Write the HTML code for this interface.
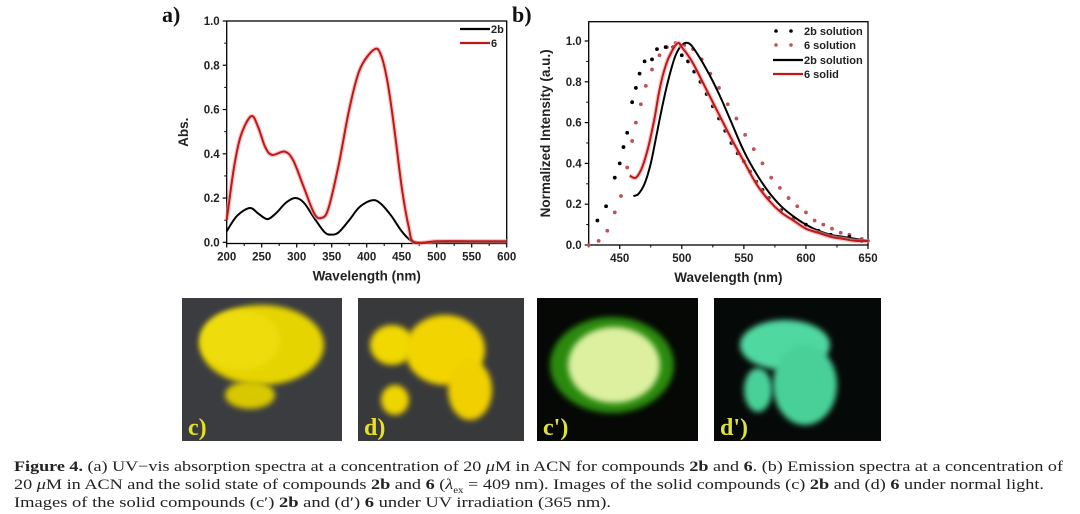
<!DOCTYPE html>
<html><head><meta charset="utf-8">
<style>
html,body{margin:0;padding:0;background:#fff;width:1080px;height:514px;overflow:hidden}
svg text{font-family:"Liberation Sans",sans-serif}
svg text.serif{font-family:"Liberation Serif",serif}
.cap{position:absolute;left:14px;font-family:"Liberation Serif",serif;font-size:15px;color:#222;white-space:nowrap;transform-origin:0 0;line-height:18px}
</style></head>
<body>
<svg id="fig" width="1080" height="450" style="position:absolute;left:0;top:0">
<defs>
<filter id="bl" x="-20%" y="-20%" width="140%" height="140%"><feGaussianBlur stdDeviation="3"/></filter>
</defs>
<g id="chartA"></g>
<g id="chartB"></g>
<g id="photos"></g>
</svg>
<div class="cap" style="top:458px"><b>Figure 4.</b> (a) UV−vis absorption spectra at a concentration of 20 <i>μ</i>M in ACN for compounds <b>2b</b> and <b>6</b>. (b) Emission spectra at a concentration of</div>
<div class="cap" style="top:476px">20 <i>μ</i>M in ACN and the solid state of compounds <b>2b</b> and <b>6</b> (<i>λ</i><sub style="font-size:9px">ex</sub> = 409 nm). Images of the solid compounds (c) <b>2b</b> and (d) <b>6</b> under normal light.</div>
<div class="cap" style="top:494px">Images of the solid compounds (c′) <b>2b</b> and (d′) <b>6</b> under UV irradiation (365 nm).</div>
<script>
// ---- Chart A data ----
const aX2b=[200,215,233,245,258,270,285,298,310,325,340,350,360,375,390,408,420,435,450,462,470,500,550,600];
const aY2b=[0.05,0.12,0.155,0.13,0.105,0.13,0.18,0.2,0.18,0.11,0.045,0.035,0.045,0.1,0.16,0.19,0.175,0.12,0.05,0.01,0,0,0,0];
const aX6=[200,210,220,235,245,255,265,283,295,310,325,335,345,360,375,390,410,420,430,440,450,460,468,500,550,600];
const aY6=[0.1,0.33,0.48,0.57,0.52,0.43,0.395,0.41,0.37,0.25,0.13,0.11,0.15,0.35,0.6,0.78,0.87,0.85,0.72,0.5,0.25,0.07,0.0,0.005,0.005,0.005];
const aXTicks=[200,250,300,350,400,450,500,550,600];
const aYTicks=[0.0,0.2,0.4,0.6,0.8,1.0];
// ---- Chart B data ----
const bX2bSol=[432,439,446,450,453,456,460,463,466,470,476,480,487,493,500,505,510,515,520,525,530,535,540,545,550,555,560,565,570,580,590,600,610,620,635,645];
const bY2bSol=[0.12,0.19,0.33,0.4,0.48,0.55,0.7,0.77,0.84,0.9,0.91,0.96,0.97,0.97,0.93,0.9,0.85,0.8,0.74,0.68,0.62,0.56,0.5,0.45,0.41,0.36,0.31,0.27,0.23,0.17,0.13,0.1,0.07,0.05,0.04,0.02];
const bX6Sol=[425,433,440,446,451,456,460,463,467,471,476,482,488,495,502,509,516,523,530,537,544,551,558,565,572,579,586,593,600,607,614,621,628,635,645,650];
const bY6Sol=[0.0,0.02,0.07,0.16,0.24,0.38,0.51,0.6,0.69,0.78,0.86,0.93,0.97,0.99,0.98,0.96,0.91,0.84,0.77,0.69,0.62,0.54,0.47,0.4,0.33,0.28,0.23,0.19,0.16,0.12,0.1,0.08,0.06,0.05,0.03,0.02];
const bX2bLine=[461,465,470,475,480,485,490,495,500,505,510,520,530,540,550,560,570,580,590,600,610,620,630,640,650];
const bY2bLine=[0.24,0.25,0.3,0.4,0.55,0.7,0.83,0.93,0.98,0.99,0.96,0.86,0.74,0.6,0.46,0.35,0.26,0.19,0.14,0.1,0.07,0.05,0.04,0.03,0.02];
const bX6Solid=[458,463,468,473,478,482,487,492,497,500,505,510,520,530,540,550,560,570,580,590,600,610,620,630,640,650];
const bY6Solid=[0.34,0.33,0.38,0.48,0.62,0.76,0.88,0.95,0.99,0.97,0.93,0.88,0.76,0.64,0.52,0.41,0.3,0.22,0.16,0.12,0.08,0.06,0.04,0.03,0.02,0.02];
const bXTicks=[450,500,550,600,650];
const bYTicks=[0.0,0.2,0.4,0.6,0.8,1.0];

const NS='http://www.w3.org/2000/svg';
function mk(tag,attrs,parent){const e=document.createElementNS(NS,tag);for(const k in attrs)e.setAttribute(k,attrs[k]);parent.appendChild(e);return e;}
function smooth(pts){let d='M'+pts[0][0]+','+pts[0][1];for(let i=0;i<pts.length-1;i++){const p0=pts[Math.max(0,i-1)],p1=pts[i],p2=pts[i+1],p3=pts[Math.min(pts.length-1,i+2)];const c1=[p1[0]+(p2[0]-p0[0])/6,p1[1]+(p2[1]-p0[1])/6],c2=[p2[0]-(p3[0]-p1[0])/6,p2[1]-(p3[1]-p1[1])/6];d+=' C'+c1[0].toFixed(1)+','+c1[1].toFixed(1)+' '+c2[0].toFixed(1)+','+c2[1].toFixed(1)+' '+p2[0].toFixed(1)+','+p2[1].toFixed(1);}return d;}

function axes(g,L,R,T,B,sx,sy,xt,yt,xmin,xmax,xlab,ylab,ylabX){
  const fr=mk('rect',{x:L,y:T,width:R-L,height:B-T,fill:'none',stroke:'#000','stroke-width':1.3},g);
  
  xt.forEach((v,i)=>{const x=sx(v);mk('line',{x1:x,x2:x,y1:B,y2:B+4,stroke:'#000','stroke-width':1.2},g);
    if(i<xt.length-1){const xm=sx(v+(xt[1]-xt[0])/2);mk('line',{x1:xm,x2:xm,y1:B,y2:B+2.5,stroke:'#000','stroke-width':1},g);}
    const t=mk('text',{x:x,y:B+17,'text-anchor':'middle','font-size':11.5,'font-weight':'bold',fill:'#222'},g);t.textContent=v;
    });
  if(xmin<xt[0]){const xm=sx(xt[0]-(xt[1]-xt[0])/2);if(xm>=L)mk('line',{x1:xm,x2:xm,y1:B,y2:B+2.5,stroke:'#000'},g);}
  yt.forEach((v,i)=>{const y=sy(v);mk('line',{x1:L-4,x2:L,y1:y,y2:y,stroke:'#000','stroke-width':1.2},g);
    if(i<yt.length-1){const ym=sy(v+0.1);mk('line',{x1:L-2.5,x2:L,y1:ym,y2:ym,stroke:'#000'},g);}
    const t=mk('text',{x:L-7,y:y+4,'text-anchor':'end','font-size':11.5,'font-weight':'bold',fill:'#222'},g);t.textContent=v.toFixed(1);
    });
  const xl=mk('text',{x:(L+R)/2,y:B+37,'text-anchor':'middle','font-size':13.5,'font-weight':'bold',fill:'#222'},g);xl.textContent=xlab;
  
  const yl=mk('text',{x:ylabX,y:(T+B)/2,'text-anchor':'middle','font-size':13.5,'font-weight':'bold',fill:'#222',transform:'rotate(-90 '+ylabX+' '+(T+B)/2+')'},g);yl.textContent=ylab;
  
}
function line(g,xs,ys,sx,sy,color,w,name,glow){
  const pts=xs.map((x,i)=>[sx(x),sy(ys[i])]);
  if(glow){const h=mk('path',{d:smooth(pts),fill:'none',stroke:glow,'stroke-width':w+2.5,'stroke-linejoin':'round',opacity:0.6},g);}
  const p=mk('path',{d:smooth(pts),fill:'none',stroke:color,'stroke-width':w,'stroke-linejoin':'round'},g);
  
}
function dots(g,xs,ys,sx,sy,color,name){
  const gg=mk('g',{},g);
  xs.forEach((x,i)=>{const c=mk('circle',{cx:sx(x),cy:sy(ys[i]),r:1.9,fill:color},gg);
    });
}

// Chart A
(function(){
  const g=document.getElementById('chartA');
  const L=226.7,R=506.7,T=21,B=243.5;
  const sx=v=>L+(v-200)/(600-200)*(R-L);
  const sy=v=>242.3-(v-0)/1.0*(242.3-21);
  axes(g,L,R,T,B,sx,sy,aXTicks,aYTicks,200,600,'Wavelength (nm)','Abs.',188);
  line(g,aX2b,aY2b,sx,sy,'#000',2,'series-2b');
  line(g,aX6,aY6,sx,sy,'#c01818',2,'series-6','#f3a0a0');
  const lab=mk('text',{x:162,y:22,'font-size':22,'font-weight':'bold',fill:'#111',class:'serif'},g);lab.textContent='a)';
  
  [['2b','#000',29],['6','#c01818',43]].forEach(([t,c,y])=>{
    const le=mk('g',{},g);
    mk('line',{x1:460,x2:490,y1:y,y2:y,stroke:c,'stroke-width':2.2},le);
    const tx=mk('text',{x:491,y:y+4,'font-size':11,'font-weight':'bold',fill:'#222'},le);tx.textContent=t;});
})();

// Chart B
(function(){
  const g=document.getElementById('chartB');
  const L=588.7,R=868,T=21.7,B=245;
  const sx=v=>L+(v-425)/(650-425)*(R-L);
  const sy=v=>245-(v-0)/1.0*(245-41);
  axes(g,L,R,T,B,sx,sy,bXTicks,bYTicks,425,650,'Wavelength (nm)','Normalized Intensity (a.u.)',550);
  dots(g,bX6Sol,bY6Sol,sx,sy,'#c0505a','series-6-solution');
  dots(g,bX2bSol,bY2bSol,sx,sy,'#000','series-2b-solution');
  line(g,bX2bLine,bY2bLine,sx,sy,'#000',2,'series-2b-solid');
  line(g,bX6Solid,bY6Solid,sx,sy,'#c01818',2,'series-6-solid','#f3a0a0');
  const lab=mk('text',{x:512,y:22,'font-size':22,'font-weight':'bold',fill:'#111',class:'serif'},g);lab.textContent='b)';
  
  [['2b solution','#000',31,1],['6 solution','#c0505a',45,1],['2b solution','#000',60,0],['6 solid','#c01818',74,0]].forEach(([t,c,y,d])=>{
    const le=mk('g',{},g);
    if(d){mk('circle',{cx:776,cy:y,r:1.8,fill:c},le);mk('circle',{cx:791,cy:y,r:1.8,fill:c},le);}
    else mk('line',{x1:773,x2:803,y1:y,y2:y,stroke:c,'stroke-width':2.2},le);
    const tx=mk('text',{x:804,y:y+4,'font-size':11,'font-weight':'bold',fill:'#222'},le);tx.textContent=t;});
})();

// Photos
(function(){
  const g=document.getElementById('photos');
  const P=[
    {x:182,w:160,bg:'#3a3c40',blobs:[[262,345,62,40,'#e6d400'],[240,340,40,30,'#eedc10'],[250,395,25,14,'#d8c800']],c:'#e8e020',l:'c)'},
    {x:358,w:166,bg:'#38393b',blobs:[[392,345,22,20,'#f0d800'],[445,350,40,35,'#f2d400'],[470,390,22,30,'#f0d000'],[395,400,14,15,'#eed400']],c:'#e8e020',l:'d)'},
    {x:537,w:161,bg:'#050805',blobs:[[612,365,62,48,'#2b8a10'],[614,365,46,38,'#dcf0a0']],c:'#e0e040',l:"c')"},
    {x:714,w:167,bg:'#050a08',blobs:[[785,345,45,25,'#50d8a0'],[805,385,32,40,'#48d098'],[758,390,14,22,'#48d098']],c:'#e0e040',l:"d')"}
  ];
  P.forEach((p,i)=>{
    const gg=mk('g',{},g);
    mk('rect',{x:p.x,y:298,width:p.w,height:143,fill:p.bg},gg);
    p.blobs.forEach(b=>mk('ellipse',{cx:b[0],cy:b[1],rx:b[2],ry:b[3],fill:b[4],filter:'url(#bl)'},gg));
    const t=mk('text',{x:p.x+6,y:435,'font-size':24,'font-weight':'bold',fill:p.c,class:'serif'},gg);t.textContent=p.l;
  });
})();

// fit caption widths
const targets=[1049,1030,597];
document.querySelectorAll('.cap').forEach((el,i)=>{const w=el.getBoundingClientRect().width;el.style.transform='scaleX('+(targets[i]/w)+')';});
</script>
</body></html>
